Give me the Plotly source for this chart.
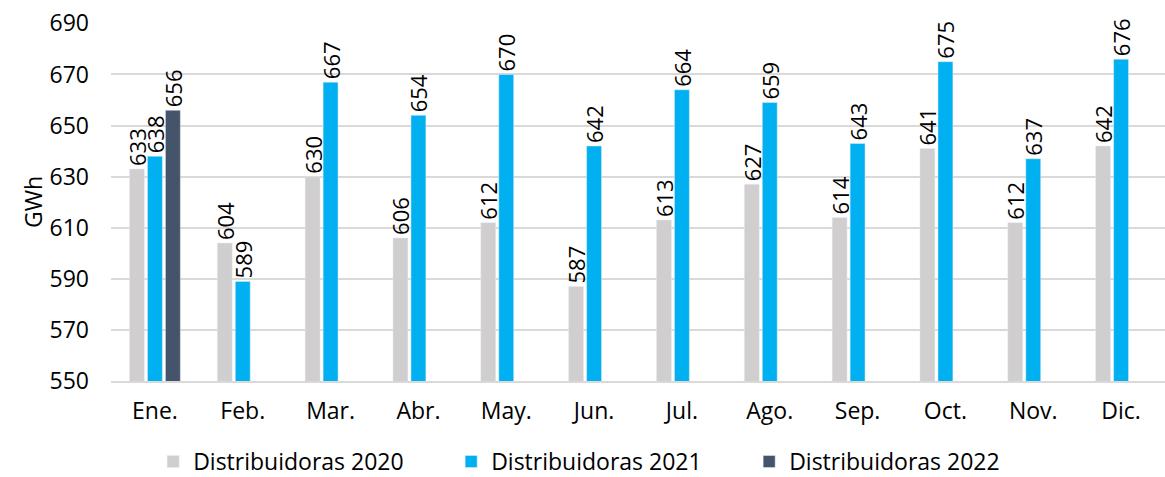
import plotly.graph_objects as go

months = ["Ene.", "Feb.", "Mar.", "Abr.", "May.", "Jun.", "Jul.", "Ago.", "Sep.", "Oct.", "Nov.", "Dic."]
d2020 = [633, 604, 630, 606, 612, 587, 613, 627, 614, 641, 612, 642]
d2021 = [638, 589, 667, 654, 670, 642, 664, 659, 643, 675, 637, 676]
d2022 = [656, None, None, None, None, None, None, None, None, None, None, None]
yticks = [550, 570, 590, 610, 630, 650, 670, 690]

series = [
    ("Distribuidoras 2020", d2020, "#D0CECE"),
    ("Distribuidoras 2021", d2021, "#00B0F0"),
    ("Distribuidoras 2022", d2022, "#44546A"),
]

FONT = "Open Sans"
fig = go.Figure()
for name, vals, col in series:
    fig.add_trace(go.Bar(
        x=months, y=vals, name=name, marker_color=col,
        text=[("" if v is None else str(v)) for v in vals],
        textposition="outside", textangle=-90, constraintext="none",
        cliponaxis=False,
        textfont=dict(family=FONT, size=22, color="#000000"),
    ))

fig.update_layout(
    width=1165, height=477,
    margin=dict(l=111, r=0, t=23, b=96, autoexpand=False),
    barmode="group", bargap=0.386, bargroupgap=0.17,
    plot_bgcolor="white", paper_bgcolor="white",
    font=dict(family=FONT, size=22, color="#000000"),
    showlegend=True,
    legend=dict(orientation="h", x=0.04, xanchor="left", y=-0.225, yanchor="middle",
                font=dict(family=FONT, size=23, color="#000000"),
                entrywidth=253, traceorder="normal"),
)
fig.update_xaxes(showgrid=False, ticks="", showline=True, linecolor="#D9D9D9", linewidth=1.5,
                 automargin=False,
                 tickfont=dict(family=FONT, size=23, color="#000000"), ticklabelstandoff=9)
fig.update_yaxes(range=[550, 690.15], tickmode="array", tickvals=yticks,
                 ticktext=[str(t) for t in yticks],
                 showgrid=True, gridcolor="#D9D9D9",
                 gridwidth=1.5, zeroline=False, ticks="", ticklabelstandoff=21,
                 automargin=False,
                 tickfont=dict(family=FONT, size=23, color="#000000"),
                 title=dict(text="GWh", font=dict(family=FONT, size=23, color="#000000"), standoff=0))

fig.write_html("out.html", config={"displayModeBar": False},
               post_script="document.body.style.margin='0';document.body.style.overflow='hidden';")
